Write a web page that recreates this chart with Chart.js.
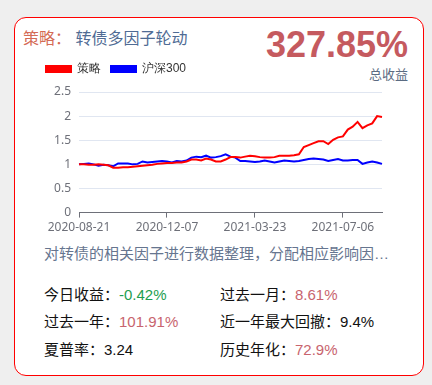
<!DOCTYPE html>
<html>
<head>
<meta charset="utf-8">
<script src="https://cdn.jsdelivr.net/npm/chart.js@4/dist/chart.umd.min.js"></script>
<style>
body{margin:0;background:#efefef;font-family:"Liberation Sans","Noto Sans CJK SC",sans-serif;}
#card{position:absolute;left:14px;top:17px;width:408px;height:357px;border:1px solid #f00;border-radius:12px;background:#fff;}
.abs{position:absolute;white-space:nowrap;}
#title{left:8px;top:11px;font-size:16px;line-height:20px;color:#4f6b94;}
#title span{color:#d46b55;}
#total{right:15px;top:6px;font-size:36px;font-weight:bold;line-height:42px;color:#c55a5f;}
#totalLbl{right:15px;top:49px;font-size:13px;line-height:16px;color:#5b6b82;}
#chartBox{position:absolute;left:21px;top:35px;width:356px;height:185px;}
#desc{left:29px;top:227px;font-size:15px;line-height:18px;color:#66758f;}
.st{font-size:15px;line-height:18px;color:#111;}
.pos{color:#c8646e;}
.neg{color:#1e9e50;}
</style>
</head>
<body>
<div id="card">
  <div id="title" class="abs"><span>策略：</span> 转债多因子轮动</div>
  <div id="total" class="abs">327.85%</div>
  <div id="totalLbl" class="abs">总收益</div>
  <div id="chartBox"><canvas id="myChart"></canvas></div>
  <div id="desc" class="abs">对转债的相关因子进行数据整理，分配相应影响因…</div>
  <div class="abs st" style="left:29px;top:268px">今日收益：<span class="neg">-0.42%</span></div>
  <div class="abs st" style="left:205px;top:268px">过去一月：<span class="pos">8.61%</span></div>
  <div class="abs st" style="left:29px;top:295px">过去一年：<span class="pos">101.91%</span></div>
  <div class="abs st" style="left:205px;top:295px">近一年最大回撤：9.4%</div>
  <div class="abs st" style="left:29px;top:323px">夏普率：3.24</div>
  <div class="abs st" style="left:205px;top:323px">历史年化：<span class="pos">72.9%</span></div>
</div>
<script>
'use strict';
let dates = ['2020-08-21','2020-08-27','2020-09-02','2020-09-08','2020-09-14','2020-09-18','2020-09-24','2020-09-30',
  '2020-10-12','2020-10-16','2020-10-22','2020-10-28','2020-11-03','2020-11-09','2020-11-13','2020-11-19','2020-11-25',
  '2020-12-01','2020-12-07','2020-12-11','2020-12-17','2020-12-23','2020-12-29','2021-01-06','2021-01-12','2021-01-18',
  '2021-01-22','2021-01-28','2021-02-03','2021-02-09','2021-02-22','2021-02-26','2021-03-04','2021-03-10','2021-03-16',
  '2021-03-19','2021-03-23','2021-03-29','2021-04-02','2021-04-09','2021-04-15','2021-04-21','2021-04-27','2021-05-06',
  '2021-05-12','2021-05-18','2021-05-24','2021-05-28','2021-06-03','2021-06-09','2021-06-16','2021-06-22','2021-06-28',
  '2021-07-02','2021-07-06','2021-07-12','2021-07-16','2021-07-22','2021-07-28','2021-08-03','2021-08-09','2021-08-13',
  '2021-08-19'];
let strategy = [1.00,1.00,0.99,0.99,1.00,0.99,0.98,0.93,0.93,0.94,0.94,0.95,0.96,0.97,0.98,0.99,1.01,1.02,1.03,1.03,
  1.04,1.04,1.06,1.10,1.10,1.08,1.12,1.10,1.06,1.06,1.10,1.15,1.15,1.14,1.16,1.18,1.17,1.15,1.14,1.14,
  1.15,1.18,1.18,1.18,1.19,1.21,1.36,1.40,1.44,1.48,1.48,1.42,1.51,1.56,1.58,1.72,1.78,1.88,1.75,1.81,
  1.85,2.00,1.98];
let hs300 = [1.00,1.01,1.02,1.00,0.97,0.99,0.98,0.96,1.02,1.02,1.02,1.00,1.01,1.06,1.04,1.05,1.06,1.07,1.06,1.04,
  1.07,1.06,1.08,1.14,1.16,1.15,1.18,1.14,1.15,1.17,1.21,1.16,1.14,1.07,1.07,1.06,1.05,1.06,1.08,1.06,
  1.04,1.06,1.08,1.07,1.06,1.07,1.09,1.11,1.12,1.11,1.10,1.07,1.09,1.11,1.08,1.08,1.09,1.09,1.01,1.04,
  1.06,1.04,1.01];
let seriesNames = ['策略','沪深300'];
let yTicks = [0,0.5,1,1.5,2,2.5];
let labelEvery = 18;

// leave a bit more room under the legend
let legendGap = {
    id: 'legendGap',
    beforeUpdate(chart){
        let lg = chart.legend;
        if(lg && !lg._gap){
            let fit = lg.fit;
            lg.fit = function(){ fit.call(this); this.height += 7; };
            lg._gap = true;
        }
    }
};

let ctx = document.getElementById('myChart').getContext('2d');
let chart = new Chart(ctx, {
    type: 'line',
    data: {
        labels: dates,
        datasets: [{
            label: seriesNames[0],
            data: strategy,
            borderColor: '#ff0000',
            backgroundColor: '#ff0000',
            borderWidth: 2,
            pointRadius: 0,
            tension: 0
        },
        {
            label: seriesNames[1],
            data: hs300,
            borderColor: '#0000ff',
            backgroundColor: '#0000ff',
            borderWidth: 2,
            pointRadius: 0,
            tension: 0
        }]
    },
    plugins: [legendGap],
    options: {
        responsive: true,
        maintainAspectRatio: false,
        animation: false,
        layout: {padding: {right: 10}},
        font: {family: '"Noto Sans","Noto Sans CJK SC",sans-serif'},
        plugins: {
            tooltip: {enabled: false},
            legend: {
                align: 'start',
                labels: {boxWidth: 25, boxHeight: 6, padding: 10, color: '#333', font: {size: 12}}
            }
        },
        scales: {
            x: {
                offset: false,
                grid: {drawOnChartArea: false, tickLength: 5, color: '#6e7079'},
                border: {color: '#6e7079'},
                ticks: {
                    autoSkip: false, maxRotation: 0, padding: 3, color: '#6e7079', font: {size: 12},
                    callback: function(v, i){ return i % labelEvery === 0 ? dates[i] : null; }
                }
            },
            y: {
                min: yTicks[0],
                max: yTicks[yTicks.length - 1],
                afterFit: function(s){ s.width = 43; },
                afterBuildTicks: function(s){ s.ticks = yTicks.map(v => ({value: v})); },
                grid: {color: '#e0e6f1', drawTicks: false},
                border: {display: false},
                ticks: {
                    padding: 8, color: '#6e7079', font: {size: 12},
                    callback: function(v){ return String(v); }
                }
            }
        }
    }
});
</script>
</body>
</html>
